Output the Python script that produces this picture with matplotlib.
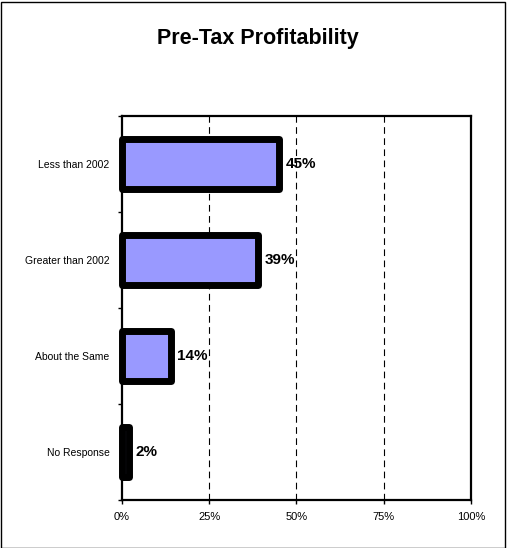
import matplotlib.pyplot as plt
from matplotlib.patches import Rectangle
from matplotlib.ticker import FixedLocator

plt.rcParams['font.family'] = ['Liberation Sans', 'DejaVu Sans']

categories = ["Less than 2002", "Greater than 2002", "About the Same", "No Response"]
values = [45, 39, 14, 2]
xticks = [0, 25, 50, 75, 100]

fig = plt.figure(figsize=(5.07, 5.48), dpi=100)
fig.patches.append(Rectangle((0.002, 0.0), 0.994, 0.997, transform=fig.transFigure,
                             fill=False, edgecolor="black", linewidth=1.0))
ax = fig.add_axes([0.2406, 0.0876, 0.6884, 0.7007])

pos = list(range(len(categories)))
bars = ax.barh(pos, values, height=0.52, color="#9999ff", edgecolor="black",
               linewidth=5, joinstyle="round", zorder=3)
for b in bars:
    b.set_clip_on(False)

for y, v in zip(pos, values):
    ax.annotate(f"{v}%", (v, y), xytext=(4.5, 0), textcoords="offset points",
                ha="left", va="center", fontsize=11, fontweight="bold", zorder=4)

ax.set_xlim(0, 100)
ax.set_ylim(3.5, -0.5)
ax.set_xticks(xticks)
ax.set_xticklabels([f"{t}%" for t in xticks], fontsize=8)
ax.set_yticks(pos)
ax.set_yticklabels(categories, fontsize=7.5)
ax.tick_params(axis="y", which="major", length=0, pad=9)
ax.yaxis.set_minor_locator(FixedLocator([-0.5, 0.5, 1.5, 2.5, 3.5]))
ax.tick_params(axis="y", which="minor", length=3, width=1)
ax.tick_params(axis="x", length=3, width=1, pad=6)

for x in xticks[1:-1]:
    ax.axvline(x, color="black", linestyle=(0, (6, 4)), linewidth=0.8, zorder=1)

for s in ax.spines.values():
    s.set_linewidth(1.6)

fig.text(0.509, 0.93, "Pre-Tax Profitability", ha="center", va="center",
         fontsize=15.5, fontweight="bold")

fig.savefig("out.png", dpi=100)
